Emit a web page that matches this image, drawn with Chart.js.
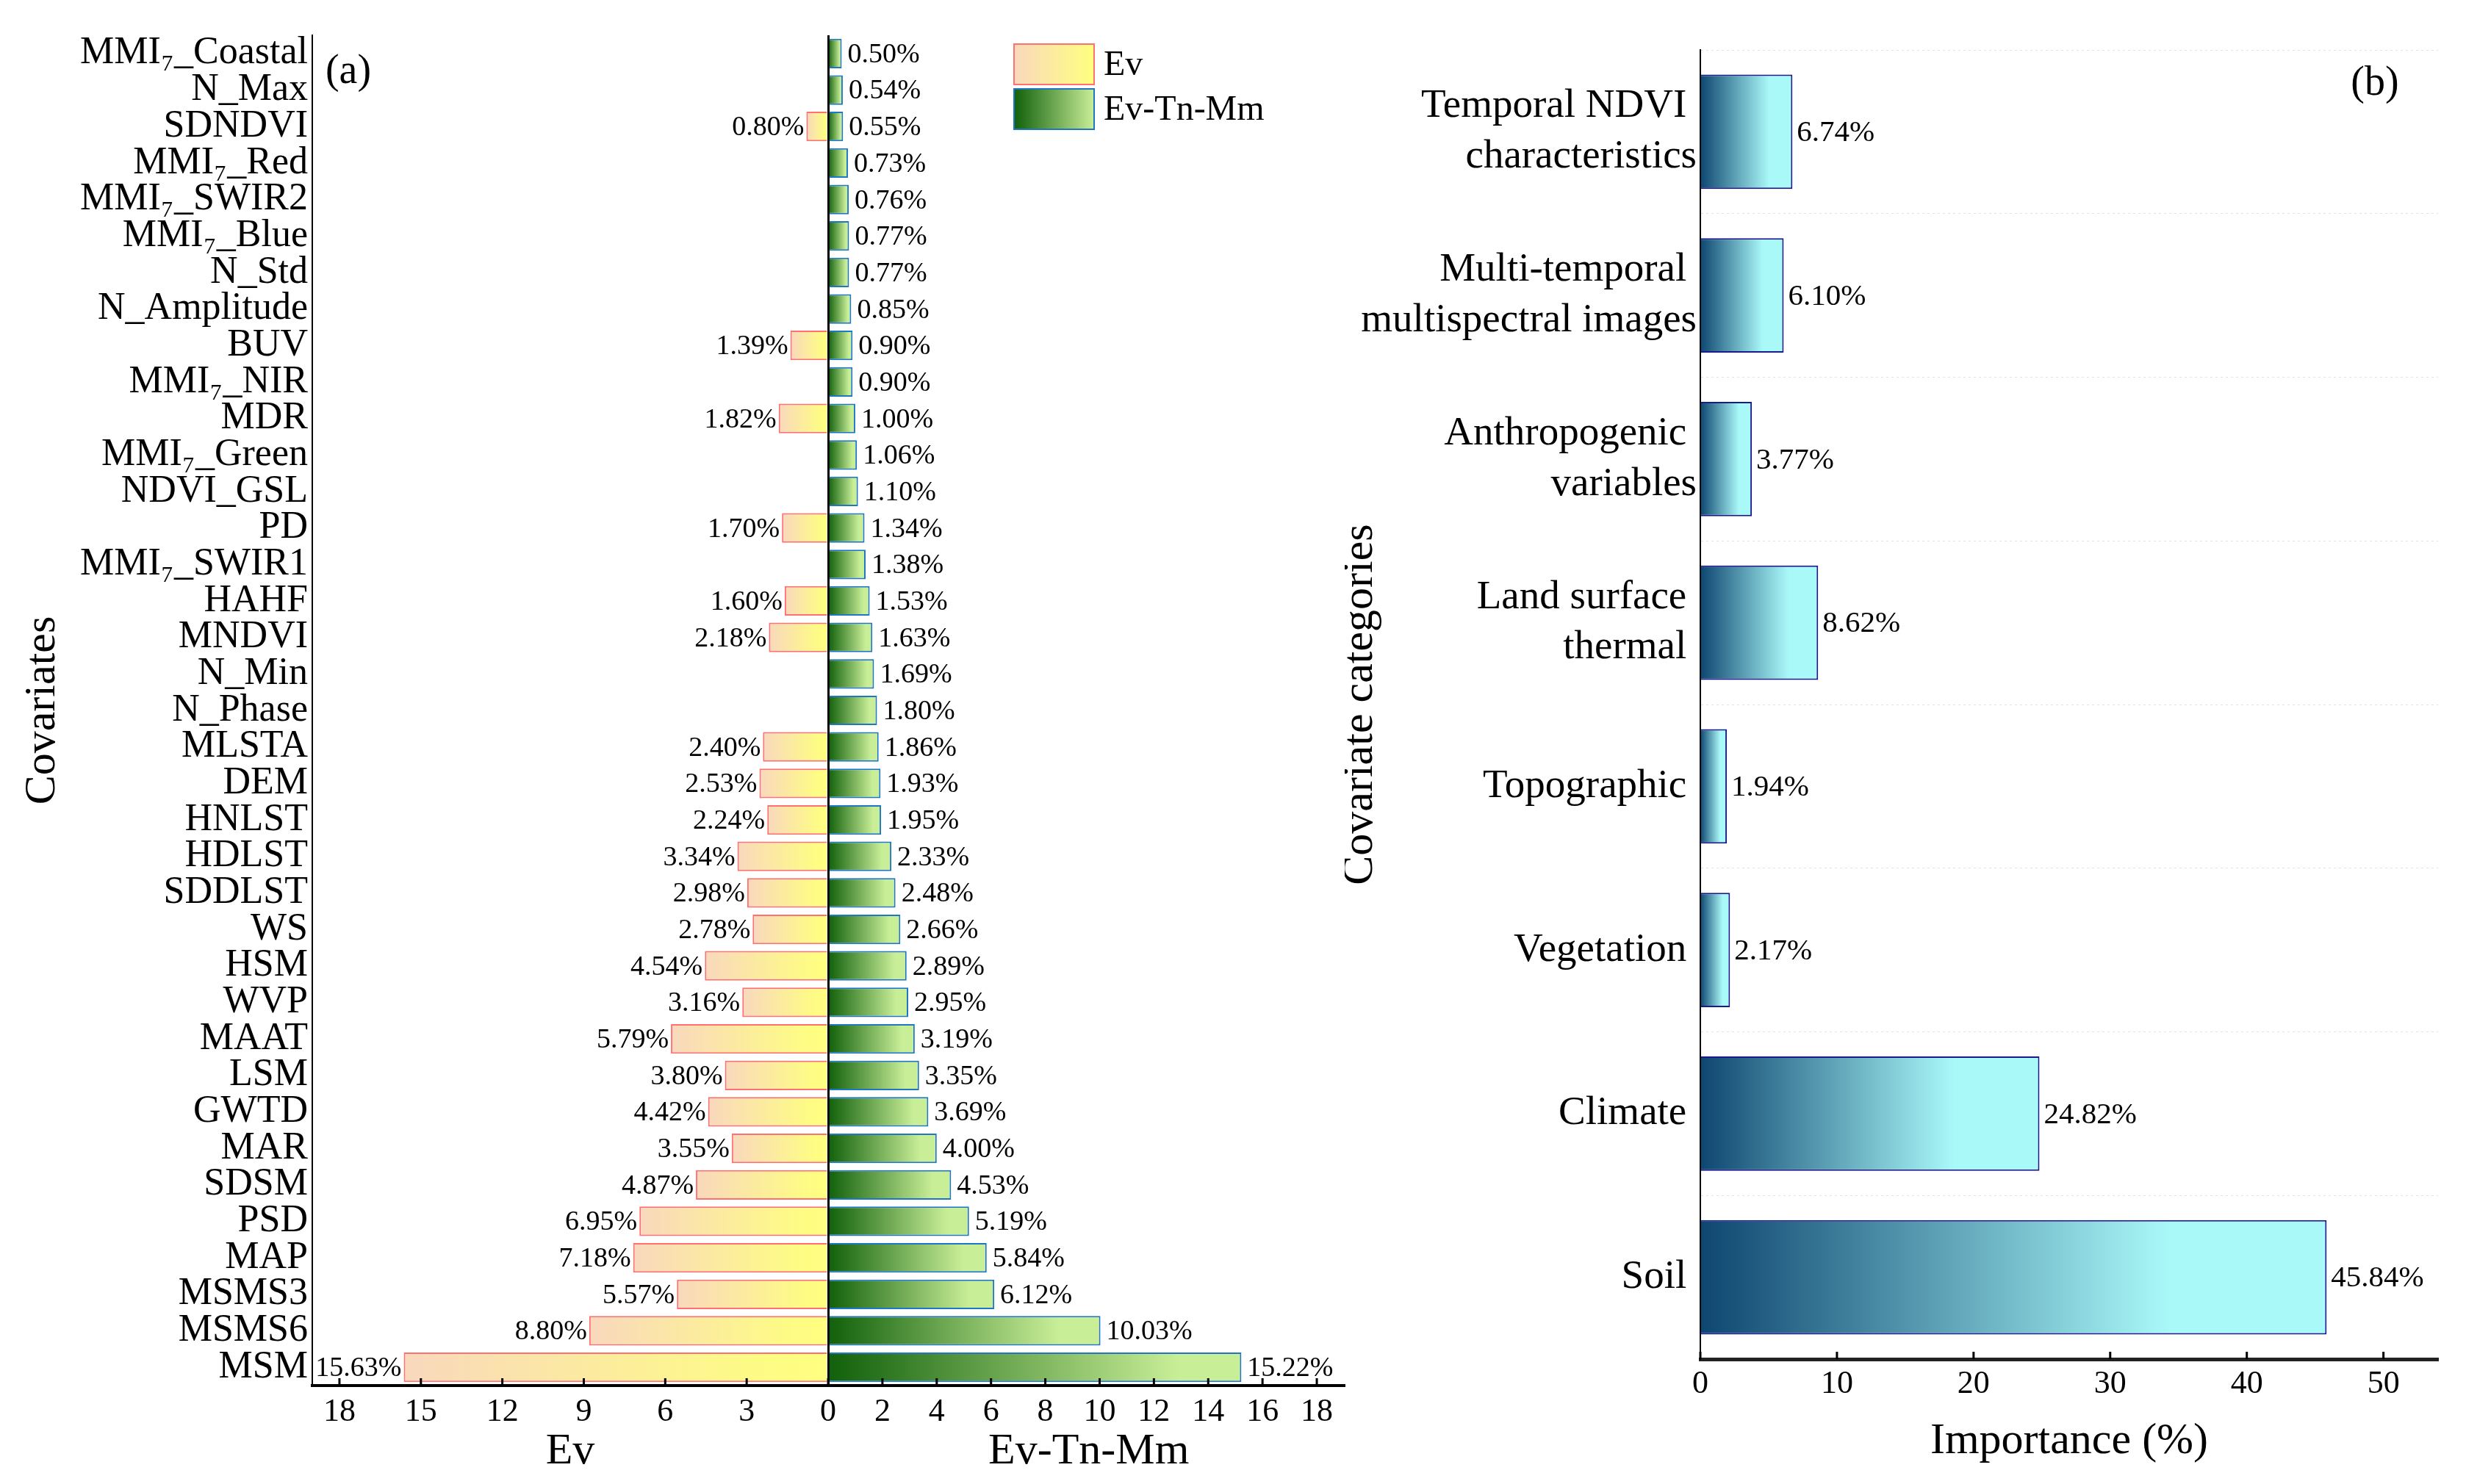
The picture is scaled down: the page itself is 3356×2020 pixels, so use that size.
<!DOCTYPE html>
<html>
<head>
<meta charset="utf-8">
<script src="https://cdn.jsdelivr.net/npm/chart.js@4.4.1/dist/chart.umd.min.js"></script>
<style>
  html, body { margin: 0; padding: 0; background: #fff; }
  #wrapA { position: absolute; left: 0; top: 0; }
  #wrapB { position: absolute; left: 1830px; top: 0; }
</style>
</head>
<body>
<div id="wrapA"><canvas id="chartA" width="1860" height="2020"></canvas></div>
<div id="wrapB"><canvas id="chartB" width="1526" height="2020"></canvas></div>
<script>
// panel (a) data, top to bottom
const covariates = ['MMI₇_Coastal', 'N_Max', 'SDNDVI', 'MMI₇_Red', 'MMI₇_SWIR2', 'MMI₇_Blue', 'N_Std',
  'N_Amplitude', 'BUV', 'MMI₇_NIR', 'MDR', 'MMI₇_Green', 'NDVI_GSL', 'PD', 'MMI₇_SWIR1', 'HAHF',
  'MNDVI', 'N_Min', 'N_Phase', 'MLSTA', 'DEM', 'HNLST', 'HDLST', 'SDDLST', 'WS', 'HSM', 'WVP',
  'MAAT', 'LSM', 'GWTD', 'MAR', 'SDSM', 'PSD', 'MAP', 'MSMS3', 'MSMS6', 'MSM'];
const evValues = [null, null, 0.80, null, null, null, null, null, 1.39, null, 1.82, null, null, 1.70,
  null, 1.60, 2.18, null, null, 2.40, 2.53, 2.24, 3.34, 2.98, 2.78, 4.54, 3.16, 5.79, 3.80, 4.42,
  3.55, 4.87, 6.95, 7.18, 5.57, 8.80, 15.63];
const evTnMmValues = [0.50, 0.54, 0.55, 0.73, 0.76, 0.77, 0.77, 0.85, 0.90, 0.90, 1.00, 1.06, 1.10,
  1.34, 1.38, 1.53, 1.63, 1.69, 1.80, 1.86, 1.93, 1.95, 2.33, 2.48, 2.66, 2.89, 2.95, 3.19, 3.35,
  3.69, 4.00, 4.53, 5.19, 5.84, 6.12, 10.03, 15.22];
const evTicks = [18, 15, 12, 9, 6, 3];
const evTnMmTicks = [0, 2, 4, 6, 8, 10, 12, 14, 16, 18];

// panel (b) data
const categories = [['Temporal NDVI ', 'characteristics'], ['Multi-temporal ', 'multispectral images'],
  ['Anthropogenic ', 'variables'], ['Land surface ', 'thermal '], 'Topographic ', 'Vegetation ',
  'Climate ', 'Soil '];
const importance = [6.74, 6.10, 3.77, 8.62, 1.94, 2.17, 24.82, 45.84];
const importanceTicks = [0, 10, 20, 30, 40, 50];

const FONT = "'Liberation Serif', 'Times New Roman', serif";

function gradientFor(ctx, stops) {
  const chart = ctx.chart;
  if (!chart.chartArea || ctx.raw == null) return 'transparent';
  const xs = chart.scales.x;
  const x0 = xs.getPixelForValue(0);
  const x1 = xs.getPixelForValue(ctx.raw);
  if (x0 === x1) return stops[0][1];
  const g = chart.ctx.createLinearGradient(x0, 0, x1, 0);
  stops.forEach(s => g.addColorStop(s[0], s[1]));
  return g;
}
const evStops = [[0, '#ffff80'], [0.15, '#fefc84'], [1, '#f9d8bd']];
const etmStops = [[0, '#11600b'], [0.85, '#c9ee98'], [1, '#c9ee98']];
const soilStops = [[0, '#0e4670'], [0.75, '#aaf9f9'], [1, '#aaf9f9']];

// upward tick marks on the bottom axis
function innerTicks(len) {
  return {
    id: 'innerTicks',
    afterDraw(chart) {
      const xs = chart.scales.x, c = chart.ctx, y = chart.chartArea.bottom;
      c.save();
      c.strokeStyle = '#000';
      c.lineWidth = 3;
      xs.ticks.forEach(t => {
        const px = xs.getPixelForValue(t.value);
        c.beginPath(); c.moveTo(px, y); c.lineTo(px, y - len); c.stroke();
      });
      c.restore();
    }
  };
}

const labelsA = {
  id: 'labelsA',
  afterDatasetsDraw(chart) {
    const c = chart.ctx;
    c.save();
    c.font = '38px ' + FONT;
    c.fillStyle = '#000';
    c.textBaseline = 'middle';
    chart.data.datasets.forEach((ds, i) => {
      chart.getDatasetMeta(i).data.forEach((bar, j) => {
        const v = ds.data[j];
        if (v == null) return;
        const txt = Math.abs(v).toFixed(2) + '%';
        if (v < 0) { c.textAlign = 'right'; c.fillText(txt, bar.x - 3, bar.y + 2); }
        else { c.textAlign = 'left'; c.fillText(txt, bar.x + 8, bar.y + 2); }
      });
    });
    c.restore();
  },
  afterDraw(chart) {
    const c = chart.ctx, xs = chart.scales.x;
    c.save();
    c.fillStyle = '#000';
    c.textAlign = 'center';
    c.textBaseline = 'middle';
    c.font = '60px ' + FONT;
    c.fillText('Ev', xs.getPixelForValue(-9.5), 1976);
    c.fillText('Ev-Tn-Mm', xs.getPixelForValue(9.6), 1976);
    c.font = '56px ' + FONT;
    c.fillText('(a)', 474, 98);
    // legend
    const items = [['Ev', '#f9d8bd', '#ffff80', '#ff7070', 60], ['Ev-Tn-Mm', '#11600b', '#c9ee98', '#1f77c4', 121]];
    items.forEach(it => {
      const g = c.createLinearGradient(1380, 0, 1489, 0);
      g.addColorStop(0, it[1]); g.addColorStop(1, it[2]);
      c.fillStyle = g;
      c.fillRect(1380, it[4], 109, 55);
      c.strokeStyle = it[3]; c.lineWidth = 2;
      c.strokeRect(1380, it[4], 109, 55);
      c.fillStyle = '#000';
      c.font = '48px ' + FONT;
      c.textAlign = 'left';
      c.fillText(it[0], 1502, it[4] + 29);
    });
    c.restore();
  }
};

new Chart(document.getElementById('chartA'), {
  type: 'bar',
  data: {
    labels: covariates,
    datasets: [
      { label: 'Ev', data: evValues.map(v => v == null ? null : -v),
        backgroundColor: ctx => gradientFor(ctx, evStops), borderColor: '#ff7070', borderWidth: 2 },
      { label: 'Ev-Tn-Mm', data: evTnMmValues,
        backgroundColor: ctx => gradientFor(ctx, etmStops), borderColor: '#1f77c4', borderWidth: 2 }
    ]
  },
  options: {
    indexAxis: 'y',
    responsive: false,
    animation: false,
    devicePixelRatio: 1,
    layout: { padding: { left: 0, top: 48, right: 31, bottom: 0 } },
    datasets: { bar: { grouped: false, barPercentage: 0.81, categoryPercentage: 1 } },
    plugins: { legend: { display: false }, tooltip: { enabled: false } },
    scales: {
      x: {
        type: 'linear', min: -19, max: 19,
        afterBuildTicks(scale) {
          scale.ticks = evTicks.map(v => ({ value: -v })).concat(evTnMmTicks.map(v => ({ value: v })));
        },
        afterFit(scale) { scale.height = 134; },
        ticks: { color: '#000', font: { family: FONT, size: 44 }, padding: 10, maxRotation: 0, autoSkip: false,
          callback: v => Math.abs(v) },
        grid: { drawTicks: false, color: c => c.tick && c.tick.value === 0 ? '#000' : 'transparent', lineWidth: 3 },
        border: { color: '#000', width: 4 }
      },
      y: {
        afterFit(scale) { scale.width = 425; },
        ticks: { color: '#000', font: { family: FONT, size: 52 }, padding: 6, autoSkip: false },
        grid: { display: false, drawTicks: false },
        border: { color: '#000', width: 2 },
        title: { display: true, text: 'Covariates', color: '#000', font: { family: FONT, size: 60 }, padding: { top: 22, bottom: 0 } }
      }
    }
  },
  plugins: [labelsA, innerTicks(10)]
});

const labelsB = {
  id: 'labelsB',
  afterDatasetsDraw(chart) {
    const c = chart.ctx;
    c.save();
    c.font = '41px ' + FONT;
    c.fillStyle = '#000';
    c.textBaseline = 'middle';
    c.textAlign = 'left';
    chart.getDatasetMeta(0).data.forEach((bar, j) => {
      c.fillText(importance[j].toFixed(2) + '%', bar.x + 6, bar.y + 2);
    });
    c.font = '56px ' + FONT;
    c.textAlign = 'center';
    c.fillText('(b)', 3232 - 1830, 114);
    c.restore();
  }
};

new Chart(document.getElementById('chartB'), {
  type: 'bar',
  data: {
    labels: categories,
    datasets: [{ label: 'Importance', data: importance,
      backgroundColor: ctx => gradientFor(ctx, soilStops), borderColor: '#1a1a8c', borderWidth: 2 }]
  },
  options: {
    indexAxis: 'y',
    responsive: false,
    animation: false,
    devicePixelRatio: 1,
    layout: { padding: { left: 0, top: 68, right: 38, bottom: 0 } },
    datasets: { bar: { barPercentage: 0.7, categoryPercentage: 1 } },
    plugins: { legend: { display: false }, tooltip: { enabled: false } },
    scales: {
      x: {
        type: 'linear', min: 0, max: 54,
        afterBuildTicks(scale) { scale.ticks = importanceTicks.map(v => ({ value: v })); },
        afterFit(scale) { scale.height = 170; },
        ticks: { color: '#000', font: { family: FONT, size: 44 }, padding: 8, maxRotation: 0 },
        grid: { drawOnChartArea: false, drawTicks: false },
        border: { color: '#222', width: 5 },
        title: { display: true, text: 'Importance (%)', color: '#000', font: { family: FONT, size: 60 }, padding: { top: 0, bottom: 22 } }
      },
      y: {
        afterFit(scale) { scale.width = 484; },
        ticks: { color: '#000', font: { family: FONT, size: 55, lineHeight: 1.25 }, padding: 5, autoSkip: false },
        grid: { drawTicks: false, color: '#e2e2e2', lineWidth: 1 },
        border: { color: '#000', width: 2, dash: [3, 4] },
        title: { display: true, text: 'Covariate categories', color: '#000', font: { family: FONT, size: 60, lineHeight: 0.7 }, padding: { top: 0, bottom: 0 } }
      }
    }
  },
  plugins: [labelsB, innerTicks(10)]
});
</script>
</body>
</html>
